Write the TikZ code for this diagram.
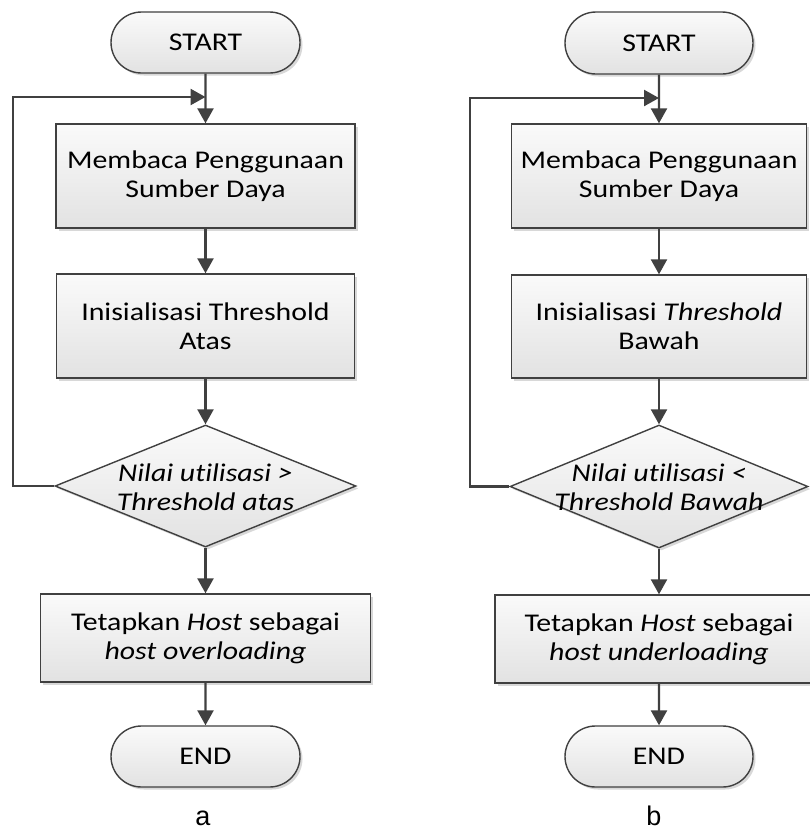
\documentclass[tikz,border=0pt]{standalone}
\usepackage{fontspec}
\setmainfont{Carlito}[FakeStretch=1.17, Ligatures=NoCommon]
\newfontfamily\labelfont{Liberation Sans}
\usetikzlibrary{shapes.geometric,shapes.misc,arrows.meta,shadows}
\definecolor{linec}{HTML}{404040}
\definecolor{filltop}{HTML}{FAFAFA}
\definecolor{fillbot}{HTML}{E2E2E2}
\begin{document}
\begin{tikzpicture}[x=1pt,y=-1pt,
  base/.style={draw=linec, line width=1.4pt, top color=filltop, bottom color=fillbot,
    drop shadow={shadow xshift=2.5pt, shadow yshift=-2.5pt, fill=black!25, opacity=0.6},
    inner sep=0pt, align=center, font=\fontsize{25.5}{29}\selectfont, text=black},
  proc/.style={base, rectangle, minimum width=#1, minimum height=104pt},
  term/.style={base, rounded rectangle, minimum width=189pt, minimum height=61pt},
  dec/.style={base, diamond, minimum width=#1, minimum height=122pt},
  dtext/.style={inner sep=0pt, align=center, font=\fontsize{25.5}{29}\selectfont\itshape},
  arr/.style={draw=linec, line width=2.4pt, -{Triangle[width=16pt,length=15pt]}},
  captext/.style={inner sep=0pt, anchor=base, font=\labelfont\fontsize{27}{30}\selectfont}
]
\useasboundingbox (0,0) rectangle (810,831);
\clip (0,0) rectangle (810,831);
\fill[white] (0,0) rectangle (810,831);

% ---------- Chart a ----------
\node[term] (startA) at (205.5,42.5) {START};
\node[proc=299pt] (boxA1) at (205.5,176) {Membaca Penggunaan\\Sumber Daya};
\node[proc=298pt] (boxA2) at (205.5,326) {Inisialisasi Threshold\\Atas};
\node[dec=301pt] (decA) at (205.5,486) {};
\node[dtext] (decAt) at (205.5,487) {Nilai utilisasi >\\Threshold atas};
\node[proc=330pt, minimum height=88pt] (boxA3) at (205.5,638) {Tetapkan \textit{Host} sebagai\\\textit{host overloading}};
\node[term] (endA) at (205.5,756.5) {END};
\node[captext] (capA) at (203,825) {a};
\coordinate (loopA) at (205.5,97);
\coordinate (cornerA) at (13,97);

\draw[arr] (startA) -- (boxA1);
\draw[arr] (boxA1) -- (boxA2);
\draw[arr] (boxA2) -- (decA);
\draw[arr] (decA) -- (boxA3);
\draw[arr] (boxA3) -- (endA);
\draw[arr] (decA.west) -| (cornerA) -- (loopA);

% ---------- Chart b ----------
\node[term, minimum width=188pt, minimum height=62pt] (startB) at (659,43) {START};
\node[proc=295pt] (boxB1) at (659,176) {Membaca Penggunaan\\Sumber Daya};
\node[proc=295pt, minimum height=103pt] (boxB2) at (659,326.5) {Inisialisasi \textit{Threshold}\\Bawah};
\node[dec=298pt, minimum height=123pt] (decB) at (659,486.5) {};
\node[dtext] (decBt) at (659,487) {Nilai utilisasi <\\Threshold Bawah};
\node[proc=328pt, minimum height=88pt] (boxB3) at (659,639) {Tetapkan \textit{Host} sebagai\\\textit{host underloading}};
\node[term, minimum width=188pt] (endB) at (659,756.5) {END};
\node[captext] (capB) at (654,825) {b};
\coordinate (loopB) at (659,98);
\coordinate (cornerB) at (470,98);

\draw[arr] (startB) -- (boxB1);
\draw[arr] (boxB1) -- (boxB2);
\draw[arr] (boxB2) -- (decB);
\draw[arr] (decB) -- (boxB3);
\draw[arr] (boxB3) -- (endB);
\draw[arr] (decB.west) -| (cornerB) -- (loopB);
\end{tikzpicture}
\end{document}
